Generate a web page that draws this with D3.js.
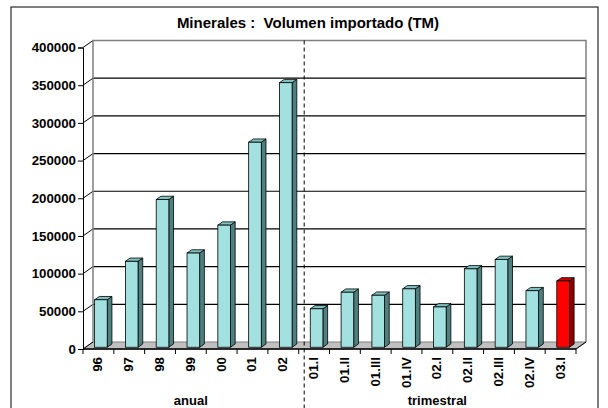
<!DOCTYPE html>
<html><head><meta charset="utf-8">
<script src="https://cdn.jsdelivr.net/npm/d3@7"></script>
<style>body{margin:0;background:#fff}svg{display:block}text{font-family:"Liberation Sans",Arial,sans-serif;font-weight:bold}</style>
</head><body><svg id="c" width="608" height="408"></svg>
<script>
const categories = ["96","97","98","99","00","01","02","01.I","01.II","01.III","01.IV","02.I","02.II","02.III","02.IV","03.I"];
const values = [63000,114000,196000,125000,162000,272000,351000,51000,73000,69000,77500,53500,104000,116500,75000,88000];
const highlight = ["03.I"];
const yTicks = [0,50000,100000,150000,200000,250000,300000,350000,400000];
const groups = [{label:"anual", from:"96", to:"02"},{label:"trimestral", from:"01.I", to:"03.I"}];
const title = "Minerales :  Volumen importado (TM)";

const svg = d3.select("#c");
const DX = 10, DY = -7;           // depth offset of the 3D walls
const f0 = 0.25, f1 = 0.72;       // bar depth span (fraction of depth)
const FS = 13.3;
const x = d3.scaleBand().domain(categories).range([83, 576]).paddingInner(0).paddingOuter(0);
const y = d3.scaleLinear().domain([0, 400000]).range([349, 47.5]);
const bw = x.bandwidth();
const barW = bw * 0.41;

// outer frame
svg.append("rect").attr("x",11).attr("y",7).attr("width",587).attr("height",420)
  .attr("fill","none").attr("stroke","#000").attr("stroke-width",1);

// title
svg.append("text").attr("x",308).attr("y",28).attr("text-anchor","middle")
  .attr("font-size",15).style("white-space","pre").attr("xml:space","preserve").text(title);

const x0 = x.range()[0], x1 = x.range()[1];
// floor
svg.append("path").attr("d",`M${x0},${y(0)}L${x1},${y(0)}L${x1+DX},${y(0)+DY}L${x0+DX},${y(0)+DY}Z`)
  .attr("fill","#c0c0c0").attr("stroke","#808080").attr("stroke-width",1);

// back wall gridlines
svg.append("g").selectAll("line").data(yTicks.slice(1,-1)).join("line")
  .attr("x1",x0+DX).attr("x2",x1+DX).attr("y1",d=>y(d)+DY).attr("y2",d=>y(d)+DY)
  .attr("stroke","#000").attr("stroke-width",1.2);
// left wall diagonals
svg.append("g").selectAll("line").data(yTicks).join("line")
  .attr("x1",x0).attr("x2",x0+DX).attr("y1",d=>y(d)).attr("y2",d=>y(d)+DY)
  .attr("stroke","#000").attr("stroke-width",1);
// back wall border (gray)
svg.append("path").attr("d",`M${x0+DX},${y(0)+DY}L${x0+DX},${y(400000)+DY}L${x1+DX},${y(400000)+DY}L${x1+DX},${y(0)+DY}`)
  .attr("fill","none").attr("stroke","#808080").attr("stroke-width",1.5);

// dashed separator
const sepX = x("01.I") + DX*0.55;
svg.append("line").attr("x1",sepX).attr("x2",sepX).attr("y1",y(400000)+DY).attr("y2",408)
  .attr("stroke","#000").attr("stroke-width",1).attr("stroke-dasharray","4,3");

// bars
const bars = svg.append("g").selectAll("g").data(categories.map((c,i)=>({c,v:values[i]}))).join("g");
bars.each(function(d){
  const g = d3.select(this);
  const hi = highlight.includes(d.c);
  const front = hi ? "#ff0000" : "#a3e0e0";
  const side = hi ? "#8c0000" : "#4f8080";
  const top = hi ? "#c80000" : "#80c0c0";
  const fx = x(d.c) + bw/2 - barW/2 + f0*DX;
  const by = y(0) + f0*DY, ty = y(d.v) + f0*DY;
  const ddx = (f1-f0)*DX, ddy = (f1-f0)*DY;
  g.append("path").attr("d",`M${fx+barW},${by}L${fx+barW+ddx},${by+ddy}L${fx+barW+ddx},${ty+ddy}L${fx+barW},${ty}Z`)
    .attr("fill",side).attr("stroke","#000").attr("stroke-width",0.8);
  g.append("path").attr("d",`M${fx},${ty}L${fx+ddx},${ty+ddy}L${fx+barW+ddx},${ty+ddy}L${fx+barW},${ty}Z`)
    .attr("fill",top).attr("stroke","#000").attr("stroke-width",0.8);
  g.append("rect").attr("x",fx).attr("y",ty).attr("width",barW).attr("height",by-ty)
    .attr("fill",front).attr("stroke","#000").attr("stroke-width",0.8);
});

// front axes
svg.append("line").attr("x1",x0).attr("x2",x1).attr("y1",y(0)).attr("y2",y(0)).attr("stroke","#000").attr("stroke-width",1.5);
svg.append("line").attr("x1",x1).attr("x2",x1+DX).attr("y1",y(0)).attr("y2",y(0)+DY).attr("stroke","#000").attr("stroke-width",1);
const yAxis = d3.axisLeft(y).tickValues(yTicks).tickSize(5).tickPadding(2).tickFormat(d3.format("d"));
const ya = svg.append("g").attr("transform",`translate(${x0},0)`).call(yAxis);
ya.select(".domain").attr("stroke","#000").attr("stroke-width",1);
ya.selectAll("text").attr("font-size",FS).attr("fill","#000").style("font-family","'Liberation Sans',Arial,sans-serif").style("font-weight","bold");

// x ticks at category boundaries
const bounds = categories.map(c=>x(c)).concat([x1]);
svg.append("g").selectAll("line").data(bounds).join("line")
  .attr("x1",d=>d).attr("x2",d=>d).attr("y1",y(0)).attr("y2",y(0)+5).attr("stroke","#000");
// x labels (rotated)
svg.append("g").selectAll("text").data(categories).join("text")
  .attr("transform",d=>`translate(${x(d)+bw/2+4},${y(0)+8}) rotate(-90)`)
  .attr("text-anchor","end").attr("font-size",FS).text(d=>d);

// group labels
svg.append("g").selectAll("text").data(groups).join("text")
  .attr("x",d=>(x(d.from)+x(d.to)+bw)/2).attr("y",405).attr("text-anchor","middle")
  .attr("font-size",13).text(d=>d.label);
</script></body></html>
